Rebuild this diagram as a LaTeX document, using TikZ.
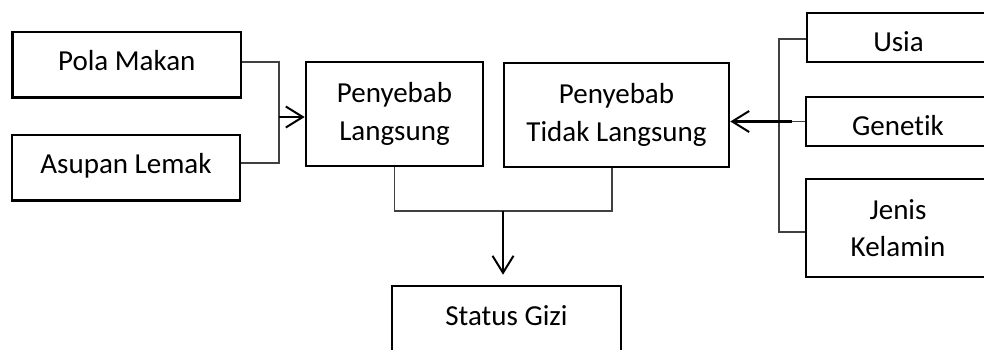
\documentclass[tikz,border=0pt]{standalone}
\usepackage{fontspec}
\setmainfont{Carlito}[Ligatures=NoCommon]
\usetikzlibrary{arrows.meta,calc}
\begin{document}
\begin{tikzpicture}[x=1pt,y=-1pt,
  box/.style={draw=black,line width=2.6pt,inner sep=0pt,align=center,
    font=\fontsize{29}{37.7}\selectfont},
  conn/.style={draw=black!75,line width=1.3pt},
  arr/.style={draw=black,line width=2.2pt,-{Straight Barb[length=17pt,width=21pt,line width=2pt]}}]
\path[use as bounding box] (0,0) rectangle (984,349);
\clip (0,0) rectangle (984,349);
\fill[white] (0,0) rectangle (984,349);
% left boxes
\node[box,minimum width=228.5pt,minimum height=65.5pt,text height=20pt,text depth=8pt] (pola) at (126.75,64.75) {Pola Makan};
\node[box,minimum width=228pt,minimum height=65.5pt,text height=20pt,text depth=8pt] (asu) at (126,167.75) {Asupan Lemak};
% middle boxes
\node[box,minimum width=177pt,minimum height=104pt] (pl) at (394.5,114) {Penyebab\\Langsung};
\node[box,minimum width=225pt,minimum height=104pt] (ptl) at (616.5,115) {Penyebab\\Tidak Langsung};
% right boxes
\node[box,minimum width=183pt,minimum height=49pt,text height=30pt,text depth=2pt] (usia) at (898.5,37.5) {Usia};
\node[box,minimum width=184pt,minimum height=49pt,text height=30pt,text depth=2pt] (gen) at (898,121.5) {Genetik};
\node[box,minimum width=184pt,minimum height=98pt] (jk) at (898,228) {Jenis\\Kelamin};
% bottom box
\node[box,minimum width=229pt,minimum height=78pt,text height=10pt,text depth=10pt] (sg) at (506.5,325) {Status Gizi};
% left connector
\coordinate (j1) at (279,62);
\coordinate (j2) at (279,163);
\coordinate (j3) at (279,117);
\draw[conn] (pola.east |- j1) -- (j1) -- (j2) -- (asu.east |- j2);
\draw[arr] (j3) -- (j3 -| pl.west);
% right connector
\coordinate (r1) at (779,39);
\coordinate (r2) at (779,232);
\draw[conn] (usia.west |- r1) -- (r1) -- (r2) -- (jk.west |- r2);
\draw[conn] (gen.west) -- (gen.west -| r1);
\draw[arr] ($(gen.west)+(-13,0)$) -- (gen.west -| ptl.east);
% bottom connector
\coordinate (b1) at (394.5,211);
\coordinate (b2) at (612,211);
\coordinate (b3) at (503,211);
\draw[conn] (pl.south -| b1) -- (b1) -- (b2) -- (ptl.south -| b2);
\draw[arr,shorten >=10pt] (b3) -- (b3 |- sg.north);
\end{tikzpicture}
\end{document}
